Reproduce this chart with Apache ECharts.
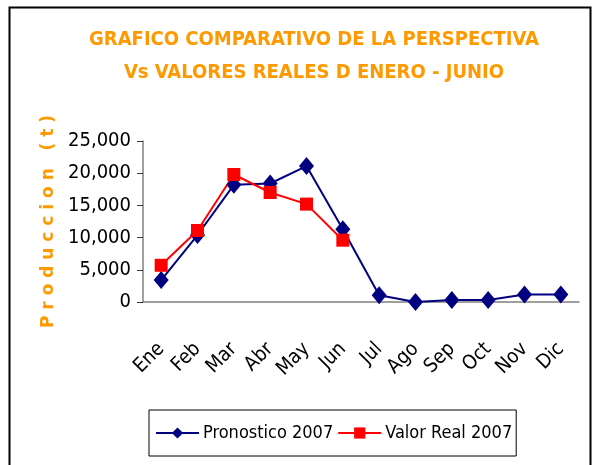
<!DOCTYPE html>
<html>
<head>
<meta charset="utf-8">
<script src="https://cdn.jsdelivr.net/npm/echarts@6/dist/echarts.min.js"></script>
<style>
html, body { margin: 0; padding: 0; background: #fff; }
#chart { width: 596px; height: 465px; }
</style>
</head>
<body>
<div id="chart"></div>
<script>
// meses
var meses = ['Ene', 'Feb', 'Mar', 'Abr', 'May', 'Jun', 'Jul', 'Ago', 'Sep', 'Oct', 'Nov', 'Dic'];
// pronostico 2007
var pronostico = [3400, 10400, 18200, 18400, 21100, 11300, 1050, 0, 300, 300, 1150, 1150];
// valor real 2007 (solo enero - junio)
var valorReal = [5700, 11100, 19800, 17000, 15200, 9600];

var naranja = '#FF9900';
var cond = '"DejaVu Sans Condensed", "DejaVu Sans", sans-serif';

var myChart = echarts.init(document.getElementById('chart'));
var option = {
    backgroundColor: '#fff',
    animation: false,
    title: {
        text: 'GRAFICO COMPARATIVO DE LA PERSPECTIVA\nVs VALORES REALES D ENERO - JUNIO',
        left: 309,
        textAlign: 'center',
        top: 18,
        textStyle: {
            color: naranja,
            fontFamily: cond,
            fontWeight: 'bold',
            fontSize: 20,
            lineHeight: 33
        }
    },
    legend: {
        orient: 'horizontal',
        top: 410,
        left: 149,
        itemWidth: 43,
        itemHeight: 14,
        itemGap: 4,
        padding: [14, 4, 14, 6],
        borderColor: '#000',
        borderWidth: 1,
        textStyle: { fontFamily: cond, fontSize: 18, color: '#000', padding: [0, 0, 0, -1] },
        data: ['Pronostico 2007', 'Valor Real 2007']
    },
    grid: { left: 143, right: 17, top: 141, bottom: 163 },
    xAxis: {
        type: 'category',
        data: meses,
        axisLine: { lineStyle: { color: '#808080', width: 1.5 } },
        axisTick: { length: 6, lineStyle: { color: '#333' } },
        axisLabel: {
            interval: 0,
            rotate: 45,
            color: '#000',
            fontFamily: cond,
            fontSize: 20,
            margin: 44
        }
    },
    yAxis: {
        type: 'value',
        min: 0,
        max: 25000,
        interval: 5000,
        name: 'P r o d u c c i o n   ( t )',
        nameLocation: 'middle',
        nameGap: 74,
        nameTextStyle: { color: naranja, fontWeight: 'bold', fontSize: 17, fontFamily: 'Verdana, "DejaVu Sans", sans-serif' },
        axisLine: { show: true, lineStyle: { color: '#808080', width: 1.5 } },
        axisTick: { show: true, length: 6, lineStyle: { color: '#333' } },
        splitLine: { show: false },
        axisLabel: {
            color: '#000',
            fontFamily: cond,
            fontSize: 20,
            margin: 12,
            formatter: function (v) { return v.toLocaleString('en-US'); }
        }
    },
    series: [
        {
            name: 'Pronostico 2007',
            type: 'line',
            data: pronostico,
            color: '#000080',
            symbol: 'diamond',
            symbolSize: [15, 18],
            lineStyle: { width: 2 }
        },
        {
            name: 'Valor Real 2007',
            type: 'line',
            data: valorReal,
            color: '#FF0000',
            symbol: 'rect',
            symbolSize: 13,
            lineStyle: { width: 2 }
        }
    ],
    graphic: [
        {
            type: 'rect',
            shape: { x: 9.5, y: 7.5, width: 581, height: 470 },
            style: { fill: 'none', stroke: '#000', lineWidth: 2 },
            silent: true
        }
    ]
};
myChart.setOption(option);
</script>
</body>
</html>
